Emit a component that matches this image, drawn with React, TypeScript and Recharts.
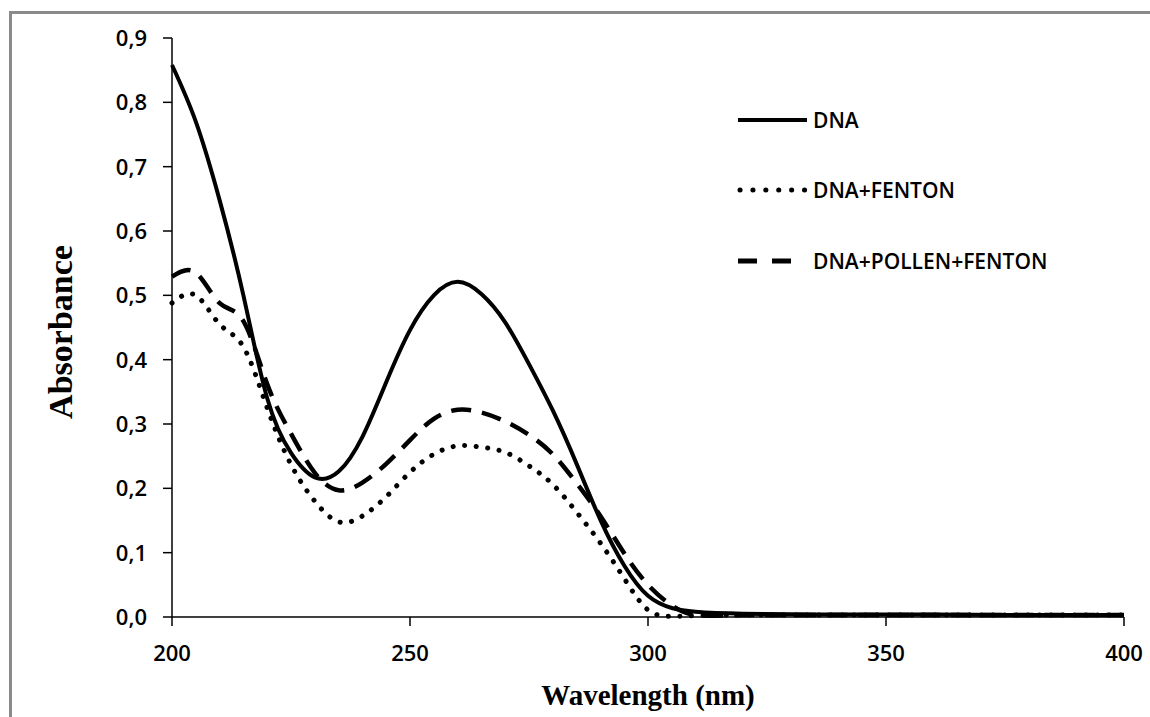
import React from 'react';
import { LineChart, Line, XAxis, YAxis, Legend } from 'recharts';

const wavelengths = [200, 205, 210, 215, 220, 225, 230, 235, 240, 245, 250, 255, 260, 265, 270, 275, 280, 285, 290, 295, 300, 305, 310, 320, 340, 360, 380, 400];
const dna = [0.858, 0.77, 0.648, 0.5, 0.34, 0.255, 0.217, 0.226, 0.28, 0.365, 0.446, 0.5, 0.521, 0.502, 0.458, 0.393, 0.321, 0.238, 0.151, 0.08, 0.033, 0.014, 0.008, 0.005, 0.004, 0.004, 0.003, 0.003];
const dnaFenton = [0.488, 0.5, 0.455, 0.42, 0.325, 0.237, 0.18, 0.148, 0.157, 0.187, 0.225, 0.253, 0.266, 0.264, 0.256, 0.235, 0.206, 0.163, 0.115, 0.06, 0.011, 0.001, 0.002, 0.003, 0.003, 0.003, 0.003, 0.003];
const dnaPollenFenton = [0.529, 0.535, 0.488, 0.46, 0.362, 0.285, 0.224, 0.197, 0.209, 0.238, 0.275, 0.308, 0.322, 0.318, 0.304, 0.283, 0.253, 0.208, 0.157, 0.099, 0.05, 0.018, 0.003, 0.003, 0.003, 0.003, 0.003, 0.003];
const xTicks = [200, 250, 300, 350, 400];
const yTicks = [0, 0.1, 0.2, 0.3, 0.4, 0.5, 0.6, 0.7, 0.8, 0.9];
const seriesNames = ['DNA', 'DNA+FENTON', 'DNA+POLLEN+FENTON'];

const data = wavelengths.map((w, i) => ({
  w,
  dna: dna[i],
  fenton: dnaFenton[i],
  pollen: dnaPollenFenton[i],
}));

const tickFont = "'Open Sans', 'Noto Sans', sans-serif";

const XTick = (props: any) => {
  const { x, y, payload } = props;
  return (
    <text x={x} y={y + 33} textAnchor="middle" fontFamily={tickFont} fontWeight={600} fontSize={22} fill="#000">
      {payload.value}
    </text>
  );
};

const YTick = (props: any) => {
  const { x, y, payload } = props;
  return (
    <text x={x - 14} y={y + 8} textAnchor="end" fontFamily={tickFont} fontWeight={600} fontSize={22} fill="#000">
      {Number(payload.value).toFixed(1).replace('.', ',')}
    </text>
  );
};

const LegendContent = () => (
  <svg width={420} height={190} style={{ display: 'block' }}>
    <line x1={8} y1={20} x2={77} y2={20} stroke="#000" strokeWidth={4} />
    <text x={83} y={27.5} fontFamily={tickFont} fontWeight={600} fontSize={21} fill="#000">{seriesNames[0]}</text>
    <line x1={10} y1={90} x2={76} y2={90} stroke="#000" strokeWidth={5} strokeDasharray="0.1 12.8" strokeLinecap="round" />
    <text x={83} y={97.5} fontFamily={tickFont} fontWeight={600} fontSize={21} fill="#000">{seriesNames[1]}</text>
    <line x1={8} y1={161} x2={62} y2={161} stroke="#000" strokeWidth={5} strokeDasharray="19 15" />
    <text x={83} y={168.5} fontFamily={tickFont} fontWeight={600} fontSize={21} fill="#000">{seriesNames[2]}</text>
  </svg>
);

export default function App() {
  return (
    <div style={{ position: 'absolute', left: 0, top: 0, width: 1150, height: 717, background: '#fff' }}>
      <div style={{ position: 'absolute', left: 9, top: 11, width: 1141, height: 706, borderTop: '3px solid #8a8a8a', borderLeft: '3px solid #8a8a8a', boxSizing: 'border-box' }} />
      <LineChart width={1150} height={717} data={data} margin={{ top: 38, right: 26, bottom: 0, left: 0 }}>
        <XAxis
          dataKey="w"
          type="number"
          domain={[200, 400]}
          ticks={xTicks}
          height={100}
          tickSize={9}
          stroke="#000"
          strokeWidth={1.5}
          tick={<XTick />}
          label={{
            content: () => (
              <text x={648} y={705} textAnchor="middle" fontFamily="'Liberation Serif', 'Times New Roman', serif" fontWeight="bold" fontSize={29} fill="#000">
                Wavelength (nm)
              </text>
            ),
          }}
        />
        <YAxis
          type="number"
          domain={[0, 0.9]}
          ticks={yTicks}
          width={172}
          tickSize={9}
          stroke="#000"
          strokeWidth={1.5}
          tick={<YTick />}
          label={{
            content: () => (
              <text x={72} y={332} textAnchor="middle" transform="rotate(-90 72 332)" fontFamily="'Liberation Serif', 'Times New Roman', serif" fontWeight="bold" fontSize={34} fill="#000">
                Absorbance
              </text>
            ),
          }}
        />
        <Legend
          layout="horizontal"
          verticalAlign="middle"
          align="center"
          content={<LegendContent />}
          wrapperStyle={{ position: 'absolute', left: 730, top: 100, width: 420, height: 190 }}
        />
        <Line type="natural" dataKey="fenton" name={seriesNames[1]} stroke="#000" strokeWidth={5} strokeDasharray="0.1 11.5" strokeLinecap="round" dot={false} isAnimationActive={false} />
        <Line type="natural" dataKey="pollen" name={seriesNames[2]} stroke="#000" strokeWidth={4.5} strokeDasharray="20 11" dot={false} isAnimationActive={false} />
        <Line type="natural" dataKey="dna" name={seriesNames[0]} stroke="#000" strokeWidth={4} dot={false} isAnimationActive={false} />
      </LineChart>
    </div>
  );
}
